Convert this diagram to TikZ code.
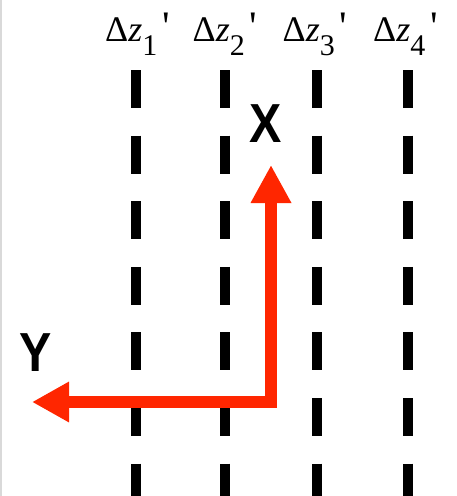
\documentclass[tikz,border=0pt]{standalone}
\usepackage{graphicx}
\usepackage{fontspec}
\setmainfont{Liberation Serif}[Ligatures=TeXOff]
\newfontfamily\axisfont{Liberation Sans}
\usetikzlibrary{arrows.meta}
\definecolor{axisred}{RGB}{255,38,0}
\newcommand{\dzlabel}[1]{^^^^0394\textit{z}\raisebox{-13.3pt}{\fontsize{30}{32}\selectfont #1}\hspace{5pt}\raisebox{1pt}{\fontsize{42}{42}\selectfont '}}

\begin{document}
\begin{tikzpicture}[x=1pt,y=-1pt,
  cut/.style={line width=10pt, dash pattern=on 38pt off 27.6pt},
  axis/.style={axisred, line width=12pt, line join=miter,
    {Triangle[length=37pt,width=38pt]}-{Triangle[length=38pt,width=38pt]}},
  zlabel/.style={anchor=base, inner sep=0pt, font=\fontsize{36}{40}\selectfont},
  axislabel/.style={inner sep=0pt, font=\axisfont\bfseries\fontsize{55}{60}\selectfont}]
\useasboundingbox (0,0) rectangle (457,496);
\draw[black!15, line width=2pt] (1,0) -- (1,496);
\draw[cut] (135.5,70) -- (135.5,496);
\draw[cut] (225,70) -- (225,496);
\draw[cut] (317,70) -- (317,496);
\draw[cut] (408,70) -- (408,496);
\node[zlabel] (dz1) at (137.5,41.7) {\dzlabel{1}};
\node[zlabel] (dz2) at (225,41.7) {\dzlabel{2}};
\node[zlabel] (dz3) at (315,41.7) {\dzlabel{3}};
\node[zlabel] (dz4) at (405.5,41.7) {\dzlabel{4}};
\coordinate (o) at (271,402);
\coordinate (ytip) at (32,402);
\coordinate (xtip) at (271,165);
\draw[axis] (ytip) -- (o) -- (xtip);
\node[axislabel] (xlab) at (266,123.3) {\scalebox{0.88}[1]{X}};
\node[axislabel] (ylab) at (36,353) {\scalebox{0.88}[1]{Y}};
\end{tikzpicture}
\end{document}
